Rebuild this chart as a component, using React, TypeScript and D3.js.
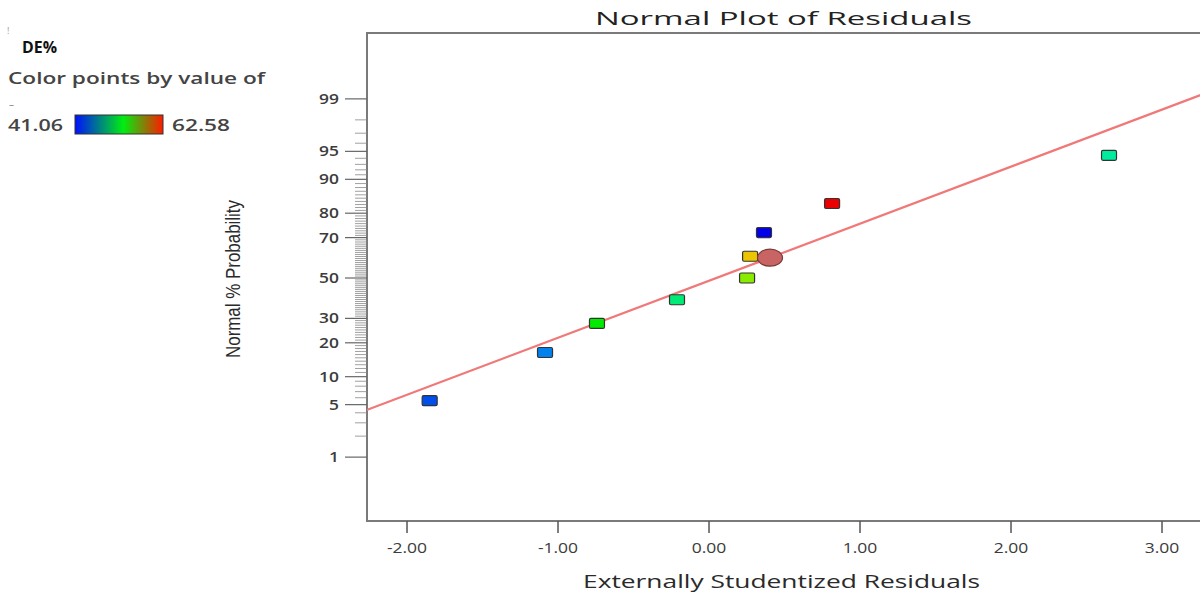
import { useEffect, useRef } from "react";
import * as d3 from "d3";

// residuals (x) and normal % probability (y), colored by DE%
const residuals = [-1.85, -1.086, -0.742, -0.212, 0.252, 0.272, 0.364, 0.815, 2.649];
const probability = [5.56, 16.67, 27.78, 38.89, 50.0, 61.11, 72.22, 83.33, 94.44];
const dePercent = [42.85, 44.02, 51.82, 49.13, 54.96, 58.07, 41.06, 62.58, 48.23];

// highlighted point
const selectedX = [0.404];
const selectedP = [60.4];

// fitted normal line, endpoints
const lineX = [-2.27, 3.3];
const lineP = [4.3, 99.2];

const yMajor = [1, 5, 10, 20, 30, 50, 70, 80, 90, 95, 99];
const xTicks = [-2, -1, 0, 1, 2, 3];
const deRange = [41.06, 62.58];

// inverse normal CDF (Acklam)
function qnorm(p: number) {
  const a = [-39.69683028665376, 220.9460984245205, -275.9285104469687, 138.357751867269, -30.66479806614716, 2.506628277459239];
  const b = [-54.47609879822406, 161.5858368580409, -155.6989798598866, 66.80131188771972, -13.28068155288572];
  const c = [-0.007784894002430293, -0.3223964580411365, -2.400758277161838, -2.549732539343734, 4.374664141464968, 2.938163982698783];
  const d = [0.007784695709041462, 0.3224671290700398, 2.445134137142996, 3.754408661907416];
  const pl = 0.02425;
  if (p < pl) {
    const q = Math.sqrt(-2 * Math.log(p));
    return (((((c[0] * q + c[1]) * q + c[2]) * q + c[3]) * q + c[4]) * q + c[5]) / ((((d[0] * q + d[1]) * q + d[2]) * q + d[3]) * q + 1);
  }
  if (p > 1 - pl) {
    const q = Math.sqrt(-2 * Math.log(1 - p));
    return -(((((c[0] * q + c[1]) * q + c[2]) * q + c[3]) * q + c[4]) * q + c[5]) / ((((d[0] * q + d[1]) * q + d[2]) * q + d[3]) * q + 1);
  }
  const q = p - 0.5;
  const r = q * q;
  return ((((((a[0] * r + a[1]) * r + a[2]) * r + a[3]) * r + a[4]) * r + a[5]) * q) / (((((b[0] * r + b[1]) * r + b[2]) * r + b[3]) * r + b[4]) * r + 1);
}

export default function App() {
  const ref = useRef<SVGSVGElement>(null);

  useEffect(() => {
    if (!ref.current) return;
    const w = 1200,
      h = 597;
    const svg = d3.select(ref.current);
    svg.selectAll("*").remove();
    svg.attr("width", w).attr("height", h);

    const font = "'Open Sans', 'DejaVu Sans', sans-serif";
    const left = 367,
      top = 33,
      bottom = 521;
    const x = d3.scaleLinear().domain([-2.265, 3.3]).range([left, left + 5.565 * 151]);
    const z = d3.scaleLinear().domain([-3.156, 3.182]).range([bottom, top]);
    const y = (p: number) => z(qnorm(p / 100));

    const hue = d3.scaleLinear().domain(deRange).range([240, 0]);
    const color = (v: number) => d3.hsl(hue(v), 1, 0.46).formatHex();

    // title
    svg.append("text").attr("x", 595).attr("y", 25).attr("textLength", 377).attr("lengthAdjust", "spacingAndGlyphs")
      .attr("font-family", font).attr("font-size", 19).attr("fill", "#222").text("Normal Plot of Residuals");

    // frame
    const right = x(3.3);
    svg.append("path").attr("d", `M${right},${top}H${left}V${bottom}H${right}`)
      .attr("fill", "none").attr("stroke", "#7a7a7a").attr("stroke-width", 2);

    // y ticks
    const minor = d3.range(2, 99).filter((p) => !yMajor.includes(p));
    svg.append("g").selectAll("line").data(minor).join("line")
      .attr("x1", 355).attr("x2", left).attr("y1", (d) => y(d)).attr("y2", (d) => y(d))
      .attr("stroke", "#888").attr("stroke-width", 0.8);
    svg.append("g").selectAll("line").data(yMajor).join("line")
      .attr("x1", 345).attr("x2", left).attr("y1", (d) => y(d)).attr("y2", (d) => y(d))
      .attr("stroke", "#666").attr("stroke-width", 1.2);
    svg.append("g").selectAll("text").data(yMajor).join("text")
      .attr("x", 339).attr("y", (d) => y(d) + 5).attr("text-anchor", "end")
      .attr("font-family", font).attr("font-size", 14.5).attr("font-weight", 600).attr("fill", "#3c3c3c")
      .attr("transform", (d) => `translate(339,0) scale(1.2,1) translate(-339,0)`)
      .text((d) => d);

    // x ticks
    svg.append("g").selectAll("line").data(xTicks).join("line")
      .attr("x1", (d) => x(d)).attr("x2", (d) => x(d)).attr("y1", bottom).attr("y2", bottom + 12)
      .attr("stroke", "#555").attr("stroke-width", 1.5);
    svg.append("g").selectAll("text").data(xTicks).join("text")
      .attr("x", (d) => x(d)).attr("y", bottom + 32).attr("text-anchor", "middle")
      .attr("font-family", font).attr("font-size", 14).attr("fill", "#3c3c3c")
      .attr("transform", (d) => `translate(${x(d)},0) scale(1.25,1) translate(${-x(d)},0)`)
      .text((d) => d.toFixed(2));

    // axis titles
    svg.append("text").attr("x", 583).attr("y", 588).attr("textLength", 397).attr("lengthAdjust", "spacingAndGlyphs")
      .attr("font-family", font).attr("font-size", 18).attr("fill", "#2a2a2a").text("Externally Studentized Residuals");
    svg.append("text").attr("transform", `translate(240,358) rotate(-90)`).attr("textLength", 158)
      .attr("lengthAdjust", "spacingAndGlyphs").attr("font-family", "'Liberation Sans Narrow', 'Liberation Sans', sans-serif")
      .attr("font-size", 21).attr("fill", "#2a2a2a").text("Normal % Probability");

    // fitted line
    const clip = svg.append("clipPath").attr("id", "plotclip");
    clip.append("rect").attr("x", left).attr("y", top).attr("width", right - left).attr("height", bottom - top);
    svg.append("line").attr("clip-path", "url(#plotclip)")
      .attr("x1", x(lineX[0])).attr("y1", y(lineP[0])).attr("x2", x(lineX[1])).attr("y2", y(lineP[1]))
      .attr("stroke", "#f07878").attr("stroke-width", 2.2);

    // points
    const pts = residuals.map((r, i) => ({ r, p: probability[i], v: dePercent[i] }));
    svg.append("g").selectAll("rect").data(pts).join("rect")
      .attr("x", (d) => x(d.r) - 7.5).attr("y", (d) => y(d.p) - 5).attr("width", 15).attr("height", 10)
      .attr("rx", 1.5).attr("fill", (d) => color(d.v)).attr("stroke", "#333").attr("stroke-width", 1.2);

    svg.append("g").selectAll("ellipse").data(selectedX).join("ellipse")
      .attr("cx", (d) => x(d)).attr("cy", (d, i) => y(selectedP[i])).attr("rx", 12.5).attr("ry", 8.5)
      .attr("fill", "#c86464").attr("stroke", "#7a3a3a").attr("stroke-width", 1.2);

    // legend
    svg.append("text").attr("x", 7).attr("y", 34).attr("font-family", font).attr("font-size", 9).attr("fill", "#999").text("!");
    svg.append("text").attr("x", 22).attr("y", 53).attr("textLength", 35).attr("lengthAdjust", "spacingAndGlyphs")
      .attr("font-family", font).attr("font-size", 16)
      .attr("font-weight", 700).attr("fill", "#111").text("DE%");
    svg.append("text").attr("x", 8).attr("y", 84).attr("textLength", 257).attr("lengthAdjust", "spacingAndGlyphs")
      .attr("font-family", font).attr("font-size", 15.5).attr("font-weight", 600).attr("fill", "#444").text("Color points by value of");
    svg.append("text").attr("x", 9).attr("y", 108).attr("font-family", font).attr("font-size", 10).attr("fill", "#888").text("–");

    const grad = svg.append("defs").append("linearGradient").attr("id", "deGrad");
    grad.append("stop").attr("offset", "0%").attr("stop-color", "#0010ff");
    grad.append("stop").attr("offset", "55%").attr("stop-color", "#00ee10");
    grad.append("stop").attr("offset", "100%").attr("stop-color", "#ff1a00");
    svg.append("rect").attr("x", 75).attr("y", 115).attr("width", 88).attr("height", 19)
      .attr("fill", "url(#deGrad)").attr("stroke", "#333").attr("stroke-width", 1);
    svg.append("text").attr("x", 8).attr("y", 131).attr("textLength", 55).attr("lengthAdjust", "spacingAndGlyphs")
      .attr("font-family", font).attr("font-size", 15.5).attr("font-weight", 600).attr("fill", "#444").text(deRange[0].toFixed(2));
    svg.append("text").attr("x", 172).attr("y", 131).attr("textLength", 58).attr("lengthAdjust", "spacingAndGlyphs")
      .attr("font-family", font).attr("font-size", 15.5).attr("font-weight", 600).attr("fill", "#444").text(deRange[1].toFixed(2));
  }, []);

  return <svg ref={ref} style={{ position: "absolute", left: 0, top: 0, background: "#fff" }} />;
}
